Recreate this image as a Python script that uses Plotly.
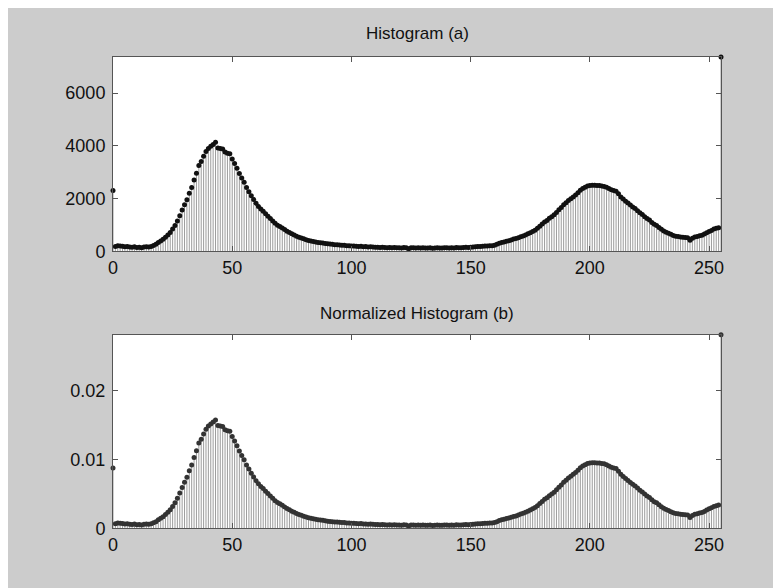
import plotly.graph_objects as go
from plotly.subplots import make_subplots

# Gray levels 0..255
gray_levels = list(range(256))

# Histogram counts (512x512 image)
counts = [
    2300, 180, 210, 200, 190, 170, 180, 160, 150, 170,
    140, 150, 130, 160, 170, 160, 180, 220, 260, 330,
    390, 450, 530, 620, 710, 840, 980, 1150, 1350, 1560,
    1760, 1950, 2200, 2420, 2700, 2960, 3250, 3400, 3600, 3780,
    3900, 3980, 4050, 4130, 3920, 3900, 3880, 3760, 3720, 3700,
    3500, 3330, 3150, 2950, 2780, 2620, 2420, 2260, 2100, 1960,
    1820, 1700, 1600, 1520, 1420, 1330, 1240, 1150, 1060, 990,
    940, 880, 820, 760, 710, 660, 620, 570, 530, 500,
    470, 440, 410, 390, 370, 350, 330, 320, 310, 290,
    280, 270, 260, 250, 245, 240, 230, 225, 210, 205,
    200, 195, 190, 180, 190, 170, 175, 165, 170, 160,
    155, 150, 145, 150, 140, 135, 145, 130, 140, 135,
    130, 125, 140, 130, 95, 130, 135, 125, 130, 120,
    130, 125, 120, 130, 115, 125, 130, 120, 125, 130,
    135, 125, 130, 120, 140, 130, 135, 140, 150, 145,
    150, 160, 170, 180, 180, 190, 200, 200, 210, 210,
    230, 260, 300, 330, 350, 380, 400, 430, 460, 480,
    510, 550, 580, 620, 660, 700, 750, 800, 870, 950,
    1030, 1110, 1170, 1250, 1310, 1380, 1470, 1570, 1660, 1760,
    1840, 1920, 1990, 2060, 2130, 2220, 2310, 2380, 2430, 2470,
    2490, 2500, 2500, 2490, 2490, 2470, 2460, 2430, 2380, 2330,
    2300, 2280, 2180, 2060, 1980, 1900, 1830, 1750, 1680, 1620,
    1540, 1460, 1390, 1310, 1240, 1180, 1090, 1020, 980, 900,
    830, 770, 720, 680, 640, 600, 570, 560, 540, 530,
    520, 510, 420, 490, 540, 560, 590, 610, 650, 700,
    750, 790, 840, 870, 890, 7370,
]

TOTAL_PIXELS = 512 * 512
normalized = [c / TOTAL_PIXELS for c in counts]

x_ticks = [0, 50, 100, 150, 200, 250]
y_ticks_a = [0, 2000, 4000, 6000]
y_ticks_b = [0, 0.01, 0.02]
y_tick_text_b = ["0", "0.01", "0.02"]

titles = ["Histogram (a)", "Normalized Histogram (b)"]

FONT = "Liberation Sans, Arial, sans-serif"

fig = make_subplots(rows=2, cols=1)


def add_stem(values, row, marker_color):
    xs, ys = [], []
    for x, v in zip(gray_levels, values):
        xs += [x, x, None]
        ys += [0, v, None]
    fig.add_trace(go.Scatter(x=xs, y=ys, mode="lines",
                             line=dict(color="rgba(60,60,60,0.5)", width=1),
                             hoverinfo="skip", showlegend=False),
                  row=row, col=1)
    fig.add_trace(go.Scatter(x=gray_levels, y=values, mode="markers",
                             marker=dict(color=marker_color, size=5),
                             cliponaxis=False, showlegend=False),
                  row=row, col=1)


add_stem(counts, 1, "#111111")
add_stem(normalized, 2, "#333333")

axis_common = dict(showgrid=False, zeroline=False, showline=True,
                   linecolor="#555555", linewidth=1, mirror="allticks",
                   ticks="inside", ticklen=5, tickcolor="#555555",
                   tickfont=dict(family=FONT, size=18, color="#111111"))

fig.update_xaxes(range=[0, 255], tickvals=x_ticks, **axis_common)
fig.update_yaxes(range=[0, max(counts)], tickvals=y_ticks_a, row=1, col=1,
                 ticklabelstandoff=3, **axis_common)
fig.update_yaxes(range=[0, max(normalized)], tickvals=y_ticks_b, ticktext=y_tick_text_b,
                 row=2, col=1, ticklabelstandoff=3, **axis_common)

fig.update_layout(
    width=781, height=588,
    paper_bgcolor="#cccccc", plot_bgcolor="white",
    margin=dict(l=105, r=68, t=0, b=0),
    xaxis=dict(domain=[0, 1]),
    yaxis=dict(domain=[0.5792, 0.9153]),
    xaxis2=dict(domain=[0, 1]),
    yaxis2=dict(domain=[0.0995, 0.4345]),
    showlegend=False,
)

fig.add_annotation(text=titles[0], xref="paper", yref="paper", x=0.5, y=0.9153,
                   yshift=12, yanchor="bottom", showarrow=False,
                   font=dict(family=FONT, size=17, color="#111111"))
fig.add_annotation(text=titles[1], xref="paper", yref="paper", x=0.5, y=0.4345,
                   yshift=10, yanchor="bottom", showarrow=False,
                   font=dict(family=FONT, size=17, color="#111111"))

fig.write_html("out.html")
